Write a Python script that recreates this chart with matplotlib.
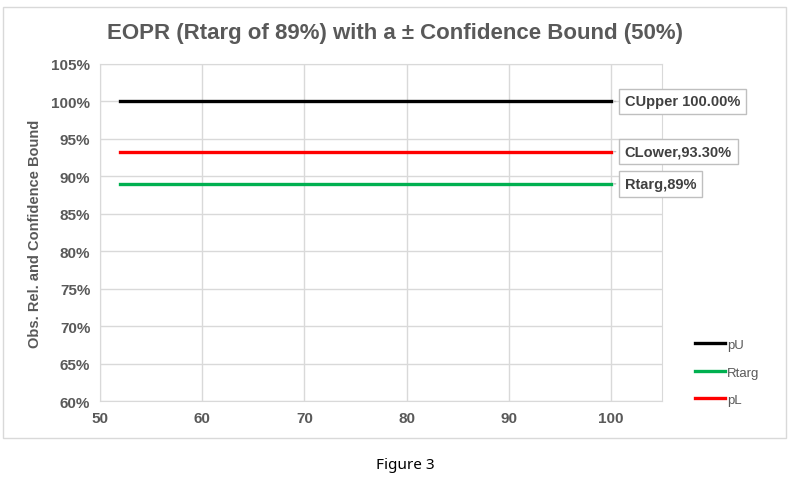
import numpy as np
import matplotlib.pyplot as plt
from matplotlib.lines import Line2D
from matplotlib.patches import Rectangle

plt.rcParams['font.family'] = ['Liberation Sans', 'DejaVu Sans']

# data
x = [52, 100]
pU = [100, 100]
rtarg = [89, 89]
pL = [93.3, 93.3]
labels = ["CUpper 100.00%", "CLower,93.30%", "Rtarg,89%"]
label_vals = [100, 93.3, 89]

fig = plt.figure(figsize=(8.07, 4.89), dpi=100)
ax = fig.add_axes([100/807, 1-402/489, 562/807, 337/489])

# outer chart frame
fig.patches.append(Rectangle((3/807, 1-439/489), 783/807, 431/489,
                             transform=fig.transFigure, fill=False,
                             edgecolor='#d9d9d9', lw=1))

ax.plot(x, pU, color='black', lw=2.4, label='pU')
ax.plot(x, rtarg, color='#00b050', lw=2.4, label='Rtarg')
ax.plot(x, pL, color='#ff0000', lw=2.4, label='pL')

ax.set_xlim(50, 105)
ax.set_ylim(60, 105)
ax.set_xticks(np.arange(50, 101, 10))
ax.set_yticks(np.arange(60, 106, 5))
ax.set_yticklabels([f"{v}%" for v in range(60, 106, 5)])
ax.grid(True, color='#d9d9d9', lw=1)
ax.set_axisbelow(True)
for s in ax.spines.values():
    s.set_color('#d9d9d9')
ax.tick_params(length=0, labelsize=11, colors='#595959', pad=7)
for t in ax.get_xticklabels() + ax.get_yticklabels():
    t.set_fontweight('bold')

ax.set_ylabel("Obs. Rel. and Confidence Bound", fontsize=10.5,
              fontweight='bold', color='#595959', labelpad=7)
fig.text(395/807, 1-33/489, "EOPR (Rtarg of 89%) with a \u00b1 Confidence Bound (50%)",
         ha='center', va='center', fontsize=16, fontweight='bold', color='#595959')

# data labels with callouts
for lab, v in zip(labels, label_vals):
    ax.annotate(lab, xy=(100, v), xytext=(10, 0), textcoords='offset points',
                ha='left', va='center', fontsize=10.5, fontweight='bold',
                color='#404040',
                bbox=dict(boxstyle='square,pad=0.4', fc='white', ec='#bfbfbf', lw=1),
                arrowprops=dict(arrowstyle='-', color='#bfbfbf', lw=1))

handles = [Line2D([], [], color='black', lw=2.4),
           Line2D([], [], color='#00b050', lw=2.4),
           Line2D([], [], color='#ff0000', lw=2.4)]
leg = fig.legend(handles, ['pU', 'Rtarg', 'pL'], loc='upper left',
                 bbox_to_anchor=(683/807, 1-328/489), frameon=False,
                 fontsize=9.5, handlelength=2.3, handletextpad=0.15,
                 labelspacing=1.15, labelcolor='#595959')

fig.text(405/807, 1-466/489, "Figure 3", ha='center', va='center',
         fontsize=11, color='black', family=['Noto Sans', 'DejaVu Sans'])

fig.savefig("out.png", dpi=100)
